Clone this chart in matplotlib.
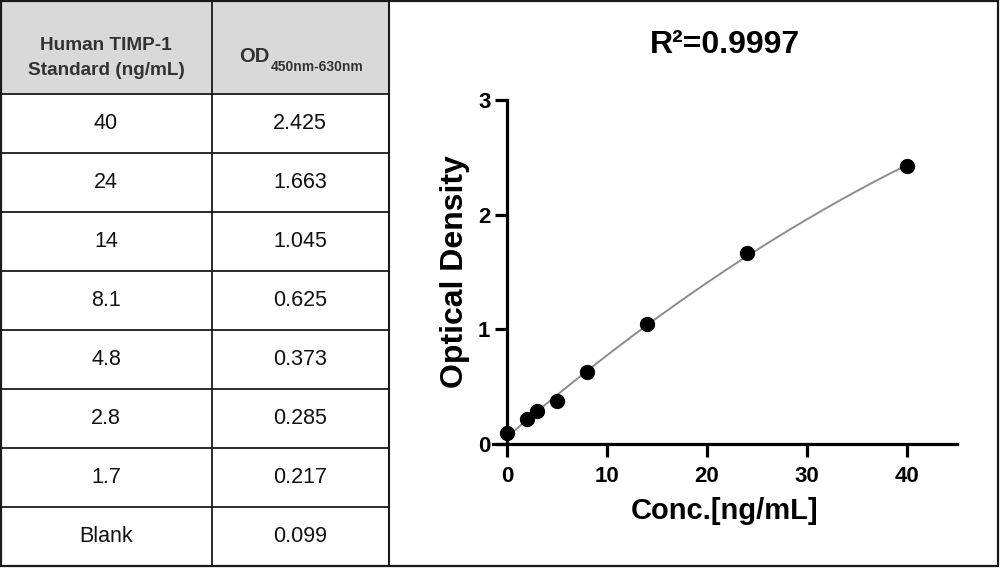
import numpy as np
import matplotlib
matplotlib.use("Agg")
import matplotlib.pyplot as plt
from matplotlib.patches import Rectangle

# table contents
std_labels = ['40', '24', '14', '8.1', '4.8', '2.8', '1.7', 'Blank']
od_values = [2.425, 1.663, 1.045, 0.625, 0.373, 0.285, 0.217, 0.099]
# concentrations as plotted on the curve
plot_conc = [40, 24, 14, 8, 5, 3, 2, 0]
r2_text = 'R\u00b2=0.9997'

plt.rcParams['font.family'] = ['Liberation Sans', 'DejaVu Sans']

fig = plt.figure(figsize=(10, 5.68), dpi=100)

# ---- table, drawn in pixel coords on a background axes ----
bg = fig.add_axes([0, 0, 1, 1])
bg.set_xlim(0, 1000)
bg.set_ylim(568, 0)
bg.axis('off')

line_col = '#1a1a1a'
head_h = 94
row_h = 59
table_bottom = head_h + row_h * len(std_labels)

bg.add_patch(Rectangle((0, 0), 389, head_h, facecolor='#d9d9d9', edgecolor='none'))
for i in range(len(std_labels) + 1):
    y = head_h + i * row_h
    bg.plot([0, 389], [y, y], color=line_col, lw=1.3)
bg.plot([212, 212], [0, table_bottom], color=line_col, lw=1.3)
bg.plot([389, 389], [0, table_bottom], color=line_col, lw=1.5)
# outer frame
bg.add_patch(Rectangle((1, 1), 997, 565, facecolor='none', edgecolor=line_col, lw=1.6))

bg.text(106, 58, 'Human TIMP-1\nStandard (ng/mL)', ha='center', va='center',
        fontsize=13.7, fontweight='bold', color='#333333', linespacing=1.55)
od = bg.text(270, 62, 'OD', ha='right', va='baseline', fontsize=14.5,
             fontweight='bold', color='#333333')
bg.annotate('450nm-630nm', xy=(1, 0), xycoords=od, xytext=(0.5, -3.5),
            textcoords='offset points', ha='left', va='baseline',
            fontsize=10, fontweight='bold', color='#333333')

for i, (lab, val) in enumerate(zip(std_labels, od_values)):
    yc = head_h + row_h * i + row_h / 2
    bg.text(106, yc, lab, ha='center', va='center', fontsize=15.5, color='#111111')
    bg.text(300, yc, '%.3f' % val, ha='center', va='center', fontsize=15.5, color='#111111')

# ---- standard curve ----
ax = fig.add_axes([0.493, 0.218, 0.464, 0.606])
x = np.array(plot_conc, dtype=float)
y = np.array(od_values)
coef = np.polyfit(x, y, 2)
xf = np.linspace(0, max(plot_conc), 200)
ax.plot(xf, np.polyval(coef, xf), color='#8c8c8c', lw=1.4, zorder=2)
ax.plot(x, y, 'o', color='black', markersize=10, clip_on=False, zorder=3)

ax.set_xlim(-1.4, 45)
ax.set_ylim(0, 3)
ax.spines['top'].set_visible(False)
ax.spines['right'].set_visible(False)
ax.spines['left'].set_position(('data', 0))
for s in ['left', 'bottom']:
    ax.spines[s].set_linewidth(2.3)
ax.set_xticks([0, 10, 20, 30, 40])
ax.set_yticks([0, 1, 2, 3])
ax.tick_params(direction='out', length=9, width=2.3, labelsize=16)
ax.tick_params(axis='x', pad=7)
ax.tick_params(axis='y', pad=3)
for lbl in ax.get_xticklabels() + ax.get_yticklabels():
    lbl.set_fontweight('bold')

ax.set_xlabel('Conc.[ng/mL]', fontsize=21, fontweight='bold', labelpad=7)
ax.set_ylabel('Optical Density', fontsize=23, fontweight='bold', labelpad=6)
ax.set_title(r2_text, fontsize=23, fontweight='bold', pad=34)

fig.savefig('out.png', dpi=100)
